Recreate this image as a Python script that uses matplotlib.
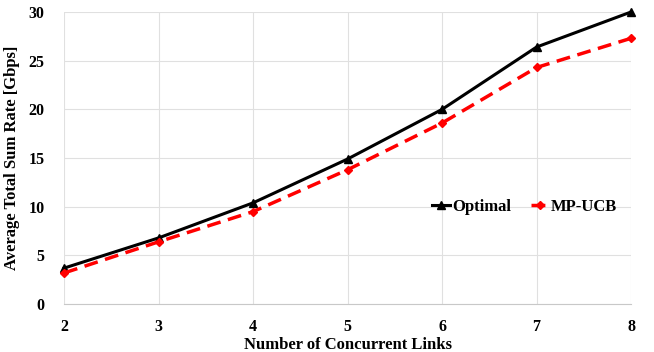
import matplotlib.pyplot as plt

plt.rcParams['font.family'] = ['Liberation Serif', 'DejaVu Serif']
plt.rcParams['font.weight'] = 'bold'

links = [2, 3, 4, 5, 6, 7, 8]
optimal = [3.7, 6.8, 10.4, 14.9, 20.0, 26.4, 30.0]
mp_ucb = [3.2, 6.4, 9.5, 13.8, 18.6, 24.3, 27.3]

fig = plt.figure(figsize=(6.54, 3.52), dpi=100)
ax = fig.add_axes([0.098, 0.136, 0.867, 0.83])

ax.plot(links, optimal, color='black', lw=2.2, marker='^', ms=6, label='Optimal',
        clip_on=False)
ax.plot(links, mp_ucb, color='#ff0000', lw=2.5, ls=(0, (4, 2.2)), marker='D', ms=4,
        label='MP-UCB', clip_on=False)

ax.set_xlim(2, 8)
ax.set_ylim(0, 30)
ax.set_xticks(links)
ax.set_yticks(range(0, 31, 5))
ax.grid(True, color='#e0e0e0', lw=0.8)
ax.set_axisbelow(True)
for s in ['top', 'right', 'left']:
    ax.spines[s].set_visible(False)
ax.spines['bottom'].set_color('#c8c8c8')
ax.tick_params(axis='x', length=0, labelsize=11.5, pad=11)
ax.tick_params(axis='y', length=0, labelsize=11.5, pad=14)
for lab in ax.get_xticklabels() + ax.get_yticklabels():
    lab.set_fontweight('bold')

ax.set_xlabel('Number of Concurrent Links', fontsize=12, fontweight='bold', labelpad=1)
ax.set_ylabel('Average Total Sum Rate [Gbps]', fontsize=12, fontweight='bold', labelpad=6)

ax.legend(loc='center left', bbox_to_anchor=(0.622, 0.333), ncol=2, frameon=False,
          handlelength=1.1, handletextpad=0.1, columnspacing=1.2,
          prop={'weight': 'bold', 'size': 12})

fig.savefig('out.png', dpi=100)
